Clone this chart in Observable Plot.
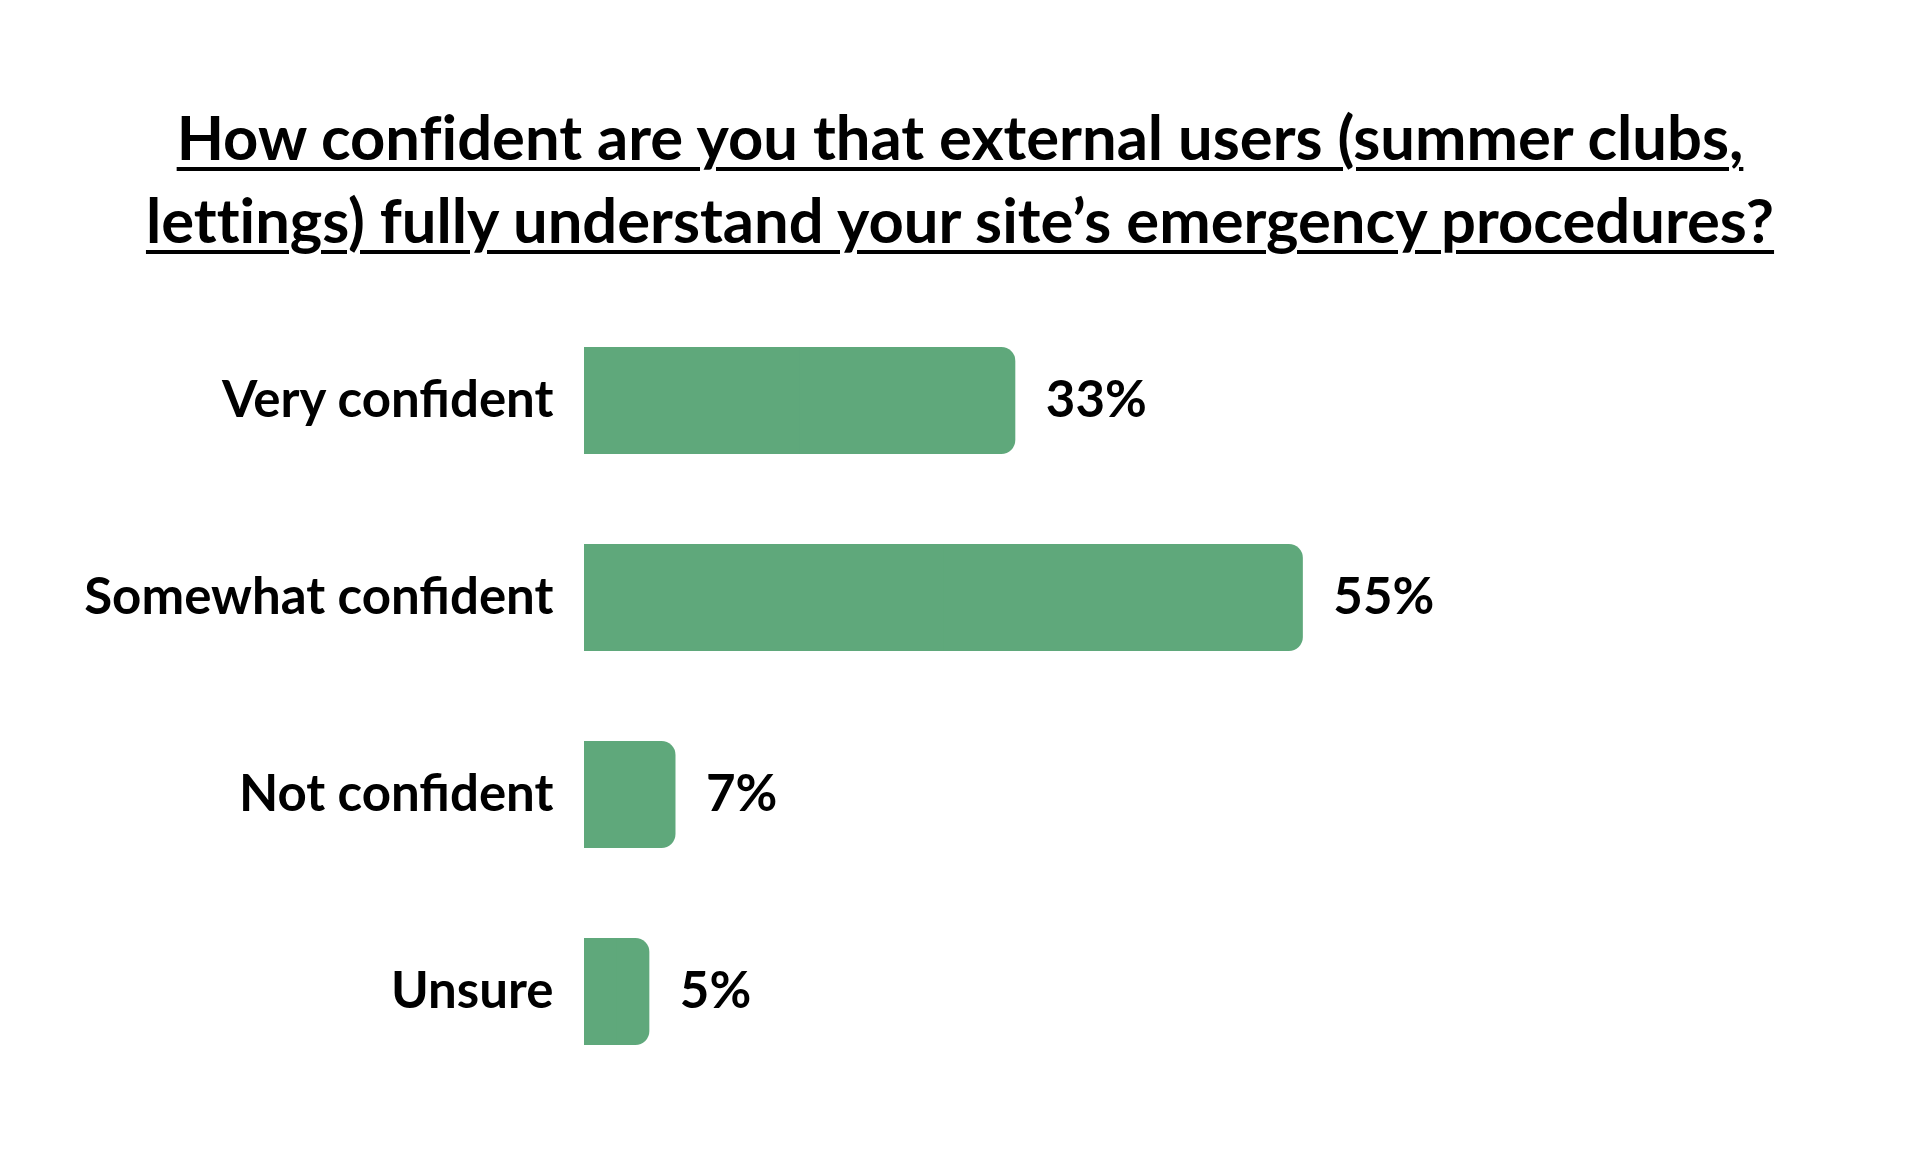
<!DOCTYPE html>
<html>
<head>
<meta charset="utf-8">
<script src="https://cdn.jsdelivr.net/npm/d3@7"></script>
<script src="https://cdn.jsdelivr.net/npm/@observablehq/plot@0.6"></script>
<style>
  html, body { margin: 0; padding: 0; background: #ffffff; }
  body { width: 1920px; height: 1152px; overflow: hidden; font-family: Lato, "Noto Sans", sans-serif; }
  #title {
    width: 1920px; height: 262px; box-sizing: border-box; padding-top: 95px;
    text-align: center; font-family: Lato, sans-serif; font-weight: 700;
    font-size: 61.5px; line-height: 83px; color: #000;
    text-decoration: underline; text-decoration-thickness: 4px; text-underline-offset: 7px;
    font-variant-ligatures: none;
  }
  #chart svg { display: block; }
</style>
</head>
<body>
<div id="title">How confident are you that external users (summer clubs,<br>lettings) fully understand your site’s emergency procedures?</div>
<div id="chart"></div>
<script>
const categories = ["Very confident", "Somewhat confident", "Not confident", "Unsure"];
const values = [33, 55, 7, 5];

const data = categories.map((c, i) => ({category: c, value: values[i]}));
const barColor = "#5FA87B";

const chart = Plot.plot({
  width: 1920,
  height: 890,
  marginLeft: 584,
  marginRight: 29,
  marginTop: 83,
  marginBottom: 105,
  style: {fontFamily: "Lato, sans-serif", background: "#ffffff", color: "#000"},
  x: {domain: [0, 100], axis: null},
  y: {domain: categories, paddingInner: 0.4545, paddingOuter: 0, label: null},
  marks: [
    Plot.barX(data, {x1: 0, x2: "value", y: "category", fill: barColor, rx: 14}),
    Plot.barX(data, {x1: 0, x2: d => d.value / 2, y: "category", fill: barColor}),
    Plot.text(data, {
      x: "value", y: "category", text: d => d.value + "%",
      textAnchor: "start", dx: 30, fontSize: 51, fontWeight: "bold", fill: "#000"
    }),
    Plot.axisY({tickSize: 0, tickPadding: 31, fontSize: 51, fontWeight: "bold", label: null, fill: "#000"})
  ]
});
document.getElementById("chart").appendChild(chart);
</script>
</body>
</html>
